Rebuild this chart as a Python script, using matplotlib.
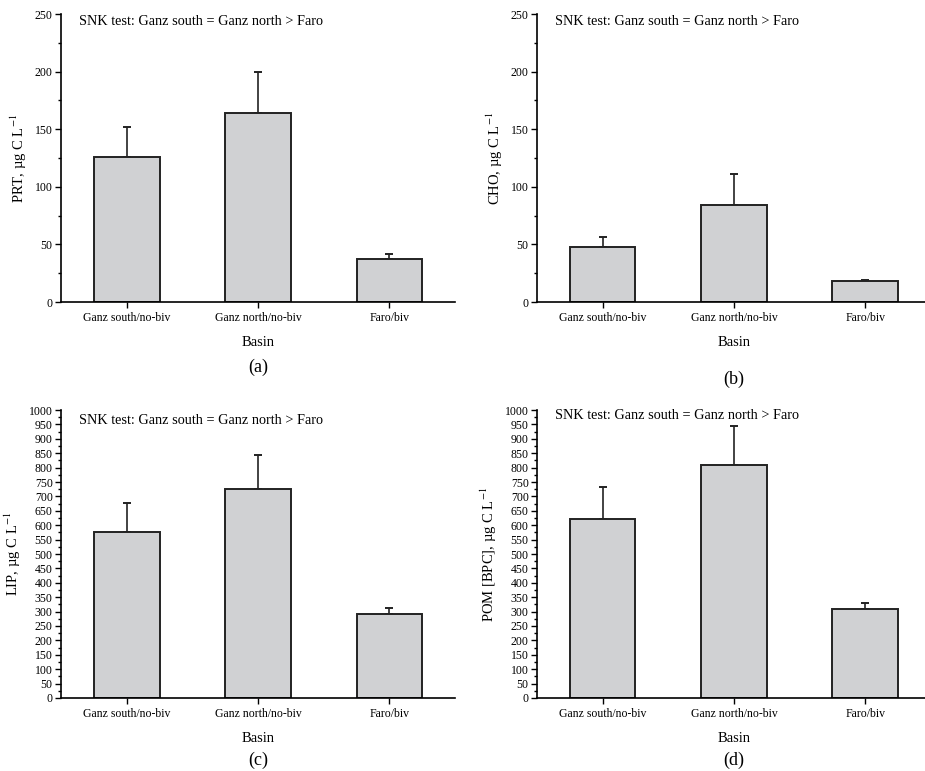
import numpy as np
import matplotlib.pyplot as plt
from matplotlib.ticker import MultipleLocator

plt.rcParams['font.family'] = ['Liberation Serif', 'DejaVu Serif']
plt.rcParams['mathtext.fontset'] = 'stix'

# Veriler (okunan değerler)
basins = ['Ganz south/no-biv', 'Ganz north/no-biv', 'Faro/biv']
prt = [126, 164, 37.5]
prt_err = [25.5, 35.5, 4.5]
cho = [47.5, 84, 18]
cho_err = [9, 27.5, 1.5]
lip = [577, 727, 291]
lip_err = [100, 116, 23]
pom = [623, 809, 308]
pom_err = [111, 136, 23]

snk_text = 'SNK test: Ganz south = Ganz north > Faro'

fig = plt.figure(figsize=(9.25, 7.71), dpi=100)

panels = [
    # left, bottom, values, errors, ylabel, ymax, label, label_y, text_y
    (0.066, 0.6083, prt, prt_err, r'PRT, µg C L$^{-1}$', 250, '(a)', 0.524, 0.995),
    (0.5805, 0.6083, cho, cho_err, r'CHO, µg C L$^{-1}$', 250, '(b)', 0.508, 0.995),
    (0.066, 0.0947, lip, lip_err, r'LIP, µg C L$^{-1}$', 1000, '(c)', 0.014, 0.985),
    (0.5805, 0.0947, pom, pom_err, r'POM [BPC], µg C L$^{-1}$', 1000, '(d)', 0.014, 1.005),
]

for left, bottom, vals, errs, ylab, ymax, lab, lab_y, txt_y in panels:
    ax = fig.add_axes([left, bottom, 0.426, 0.3735])
    x = np.arange(len(basins))
    ax.bar(x, vals, width=0.5, color='#d0d1d3', edgecolor='#222222', linewidth=1.4, zorder=2)
    ax.errorbar(x, vals, yerr=[np.zeros(len(errs)), errs], fmt='none',
                ecolor='#222222', elinewidth=1.2, capsize=3, capthick=1.4, zorder=1)
    ax.set_xlim(-0.5, 2.5)
    ax.set_ylim(0, ymax)
    ax.set_xticks(x)
    ax.set_xticklabels(basins, fontsize=8.5)
    ax.yaxis.set_major_locator(MultipleLocator(50))
    ax.yaxis.set_minor_locator(MultipleLocator(25))
    ax.tick_params(axis='y', which='major', labelsize=8.5, length=4, width=1, pad=2)
    ax.tick_params(axis='y', which='minor', length=2.5, width=1)
    ax.tick_params(axis='x', length=4, width=1)
    for s in ['top', 'right']:
        ax.spines[s].set_visible(False)
    for s in ['left', 'bottom']:
        ax.spines[s].set_linewidth(1.2)
    ax.set_xlabel('Basin', fontsize=10.5, labelpad=8)
    ax.set_ylabel(ylab, fontsize=10.5, labelpad=4)
    ax.text(0.045, txt_y, snk_text, transform=ax.transAxes, fontsize=10.3,
            ha='left', va='top')
    xc = left + 0.426 * 0.5
    fig.text(xc, lab_y, lab, fontsize=13, ha='center', va='center')

plt.savefig('out.png', dpi=100)
